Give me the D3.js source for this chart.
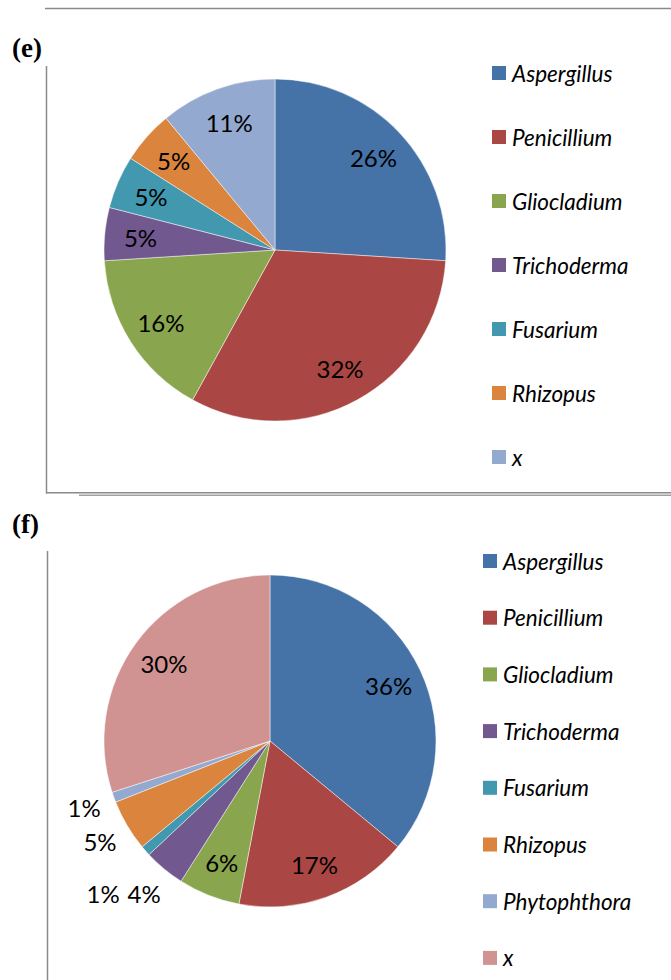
<!DOCTYPE html>
<html>
<head>
<meta charset="utf-8">
<script src="https://cdn.jsdelivr.net/npm/d3@7/dist/d3.min.js"></script>
<style>
  html, body { margin: 0; padding: 0; background: #fff; }
  svg { display: block; }
</style>
</head>
<body>
<svg id="chart" width="671" height="980"></svg>
<script>
// ---- data ----
const catsE = ["Aspergillus", "Penicillium", "Gliocladium", "Trichoderma", "Fusarium", "Rhizopus", "x"];
const valsE = [26, 32, 16, 5, 5, 5, 11];
const colorsE = ["#4572A7", "#AA4643", "#89A54E", "#71588F", "#4198AF", "#DB843D", "#93A9CF"];

const catsF = ["Aspergillus", "Penicillium", "Gliocladium", "Trichoderma", "Fusarium", "Rhizopus", "Phytophthora", "x"];
const valsF = [36, 17, 6, 4, 1, 5, 1, 30];
const colorsF = ["#4572A7", "#AA4643", "#89A54E", "#71588F", "#4198AF", "#DB843D", "#93A9CF", "#D19392"];

const panelTitles = ["(e)", "(f)"];

// ---- layout ----
const svg = d3.select("#chart");
const frameColor = "#8a8a8a";

const panels = [
  { title: panelTitles[0], cats: catsE, vals: valsE, colors: colorsE,
    titleX: 12, titleY: 57, cx: 275, cy: 250, r: 171, insideMin: 5,
    legX: 492, legY0: 73, legStep: 64 },
  { title: panelTitles[1], cats: catsF, vals: valsF, colors: colorsF,
    titleX: 12, titleY: 533, cx: 270, cy: 741, r: 166, insideMin: 6,
    legX: 483, legY0: 561, legStep: 56.7 }
];

// frames
svg.append("line").attr("x1", 45).attr("x2", 671).attr("y1", 8.5).attr("y2", 8.5)
  .attr("stroke", frameColor).attr("stroke-width", 1.5);
svg.append("line").attr("x1", 46.5).attr("x2", 46.5).attr("y1", 66).attr("y2", 493.5)
  .attr("stroke", frameColor).attr("stroke-width", 1.5);
svg.append("line").attr("x1", 46).attr("x2", 671).attr("y1", 492.8).attr("y2", 492.8)
  .attr("stroke", frameColor).attr("stroke-width", 1.5);
svg.append("line").attr("x1", 79).attr("x2", 671).attr("y1", 495.2).attr("y2", 495.2)
  .attr("stroke", "#a0a0a0").attr("stroke-width", 1.6);
svg.append("line").attr("x1", 47.5).attr("x2", 47.5).attr("y1", 551).attr("y2", 980)
  .attr("stroke", frameColor).attr("stroke-width", 1.5);

const labelFont = "Lato, 'Open Sans', sans-serif";

panels.forEach(p => {
  svg.append("text").attr("x", p.titleX).attr("y", p.titleY)
    .attr("font-family", "'Liberation Serif', 'Times New Roman', serif")
    .attr("font-weight", "bold").attr("font-size", 27).attr("fill", "#000")
    .text(p.title);

  const data = p.cats.map((c, i) => ({ cat: c, value: p.vals[i], color: p.colors[i] }));
  const pie = d3.pie().value(d => d.value).sort(null);
  const arcs = pie(data);
  const arc = d3.arc().innerRadius(0).outerRadius(p.r);
  const g = svg.append("g").attr("transform", `translate(${p.cx},${p.cy})`);

  g.selectAll("path").data(arcs).join("path")
    .attr("d", arc)
    .attr("fill", d => d.data.color)
    .attr("stroke", "#ffffff").attr("stroke-width", 0.6).attr("stroke-opacity", 0.8);

  const inArc = d3.arc().innerRadius(p.r * 0.79).outerRadius(p.r * 0.79);
  const outArc = d3.arc().innerRadius(p.r * 1.19).outerRadius(p.r * 1.19);

  const placed = [];
  const lw = 39, lh = 22;
  arcs.forEach(a => {
    const inside = a.data.value >= p.insideMin;
    let [x, y] = (inside ? inArc : outArc).centroid(a);
    if (!inside) {
      const prev = placed[placed.length - 1];
      if (prev && Math.abs(prev.x - x) < lw && Math.abs(prev.y - y) < lh + 2) {
        y = prev.y;
        x = prev.x - lw - 2;
      }
      placed.push({ x, y });
    }
    g.append("text")
      .attr("x", x).attr("y", y)
      .attr("text-anchor", "middle").attr("dominant-baseline", "central")
      .attr("font-family", labelFont).attr("font-size", 24).attr("fill", "#000")
      .text(a.data.value + "%");
  });

  // legend
  const leg = svg.append("g");
  data.forEach((d, i) => {
    const y = p.legY0 + i * p.legStep;
    leg.append("rect").attr("x", p.legX).attr("y", y - 7).attr("width", 14).attr("height", 14)
      .attr("fill", d.color);
    leg.append("text").attr("x", p.legX + 20).attr("y", y)
      .attr("dominant-baseline", "central")
      .attr("font-family", labelFont).attr("font-style", "italic").attr("font-size", 22.5)
      .attr("fill", "#000").text(d.cat);
  });
});
</script>
</body>
</html>
